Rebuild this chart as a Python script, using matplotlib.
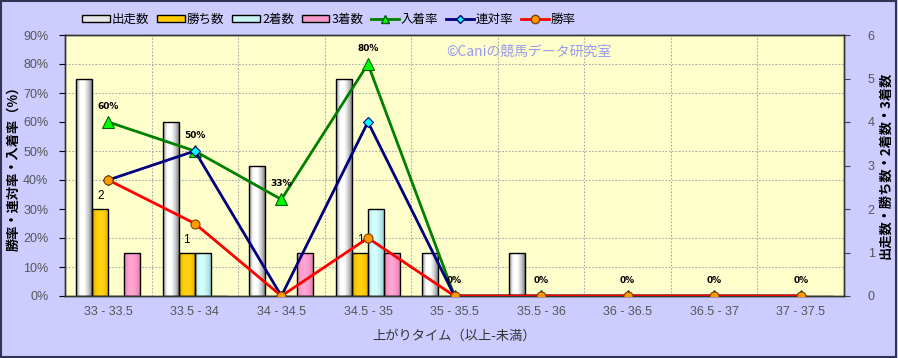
import numpy as np
import matplotlib
matplotlib.use("Agg")
import matplotlib.pyplot as plt
from matplotlib.patches import Rectangle, Patch
from matplotlib.lines import Line2D
from matplotlib.colors import LinearSegmentedColormap

plt.rcParams['font.family'] = ['Noto Sans CJK JP', 'DejaVu Sans']

categories = ["33 - 33.5", "33.5 - 34", "34 - 34.5", "34.5 - 35", "35 - 35.5",
              "35.5 - 36", "36 - 36.5", "36.5 - 37", "37 - 37.5"]
starts = [5, 4, 3, 5, 1, 1, 0, 0, 0]        # 出走数
wins = [2, 1, 0, 1, 0, 0, 0, 0, 0]          # 勝ち数
seconds = [0, 1, 0, 2, 0, 0, 0, 0, 0]       # 2着数
thirds = [1, 0, 1, 1, 0, 0, 0, 0, 0]        # 3着数
place_rate = [60, 50, 33.3, 80, 0, 0, 0, 0, 0]   # 入着率
rentai_rate = [40, 50, 0, 60, 0, 0, 0, 0, 0]     # 連対率
win_rate = [40, 25, 0, 20, 0, 0, 0, 0, 0]        # 勝率

W, H = 898, 358
fig = plt.figure(figsize=(W / 100, H / 100), dpi=100)
fig.patch.set_facecolor('#CCCCFF')
fig.patches.append(Rectangle((0.001, 0.002), 0.997, 0.995, transform=fig.transFigure,
                             fill=False, edgecolor='#333355', linewidth=1.5))

left, right, top, bottom = 65, 844, 35, 296
ax = fig.add_axes([left / W, 1 - bottom / H, (right - left) / W, (bottom - top) / H])
ax.set_facecolor('#FFFFCC')
ax2 = ax.twinx()

x = np.arange(len(categories))
bw = 0.185
offs = [-1.5 * bw, -0.5 * bw, 0.5 * bw, 1.5 * bw]

def grad_bars(bars, cmap):
    grad = np.linspace(0, 1, 64).reshape(1, -1)
    for b in bars:
        if b.get_height() <= 0:
            continue
        x0, y0 = b.get_x(), b.get_y()
        im = ax.imshow(grad, extent=(x0, x0 + b.get_width(), y0, y0 + b.get_height()),
                       aspect='auto', cmap=cmap, zorder=2, origin='lower')
        im.set_clip_path(b)

cm_white = LinearSegmentedColormap.from_list('w', ['#9a9a9a', '#ffffff', '#ffffff', '#c8c8c8', '#6e6e6e'])
cm_gold = LinearSegmentedColormap.from_list('g', ['#d9a400', '#ffcc00', '#ffd21a', '#ffcc00', '#d9a400'])
cm_cyan = LinearSegmentedColormap.from_list('c', ['#a8dede', '#d4ffff', '#d4ffff', '#b8eaea', '#96cccc'])
cm_pink = LinearSegmentedColormap.from_list('p', ['#e07fb0', '#ff9fd0', '#ffa6d4', '#f595c6', '#d878aa'])

series = [(starts, cm_white, '#dddddd'), (wins, cm_gold, '#ffcc00'),
          (seconds, cm_cyan, '#c8f4f4'), (thirds, cm_pink, '#f59ac8')]
for (vals, cmap, fc), o in zip(series, offs):
    bars = ax.bar(x + o, vals, width=bw, facecolor=fc, edgecolor='black', linewidth=1.0, zorder=2)
    grad_bars(bars, cmap)
    for b in bars:
        b.set_facecolor('none')
        b.set_zorder(3)

for i, v in enumerate(wins):
    if v > 0:
        ax.annotate(str(v), (x[i] + offs[1], v), xytext=(0, 5), textcoords='offset points',
                    ha='center', va='bottom', fontsize=8.5, color='black',
                    family=['Liberation Sans', 'DejaVu Sans'])

ax.set_xlim(-0.5, len(categories) - 0.5)
ax.set_ylim(0, 6)
ax.yaxis.tick_right()
ax.yaxis.set_label_position('right')
ax.set_yticks(range(0, 7))
ax.set_yticks(np.arange(0, 6.01, 2 / 3), minor=True)
ax.grid(True, which='minor', axis='y', linestyle=(0, (1.5, 1.5)), color='#aaaaaa', linewidth=0.8, zorder=0)
ax.set_xticks(x)
ax.set_xticklabels(categories)
ax.set_xticks(np.arange(0.5, len(categories) - 0.5, 1), minor=True)
ax.grid(True, which='minor', axis='x', linestyle=(0, (1.5, 1.5)), color='#aaaaaa', linewidth=0.8, zorder=0)
ax.tick_params(axis='x', which='major', length=0, labelsize=9, colors='#444444', pad=7)
ax.tick_params(axis='x', which='minor', length=0)
ax.tick_params(axis='y', which='major', length=4, labelsize=9, colors='#444444', pad=13)
ax.tick_params(axis='y', which='minor', length=0)
for lab in ax.get_xticklabels() + ax.get_yticklabels():
    lab.set_family(['Liberation Sans', 'DejaVu Sans'])
    lab.set_color('#555555')
ax.set_axisbelow(True)

ax2.set_ylim(0, 90)
ax2.yaxis.tick_left()
ax2.yaxis.set_label_position('left')
ax2.set_yticks(range(0, 91, 10))
ax2.set_yticklabels([f"{v}%" for v in range(0, 91, 10)])
ax2.tick_params(axis='y', length=4, labelsize=9, pad=8)
for lab in ax2.get_yticklabels():
    lab.set_family(['Liberation Sans', 'DejaVu Sans'])
    lab.set_color('#555555')

lw = 2.0
ax2.plot(x, place_rate, color='#008000', lw=lw, marker='^', markersize=8,
         markerfacecolor='#00ff00', markeredgecolor='#006000', markeredgewidth=0.8, zorder=5)
ax2.plot(x, rentai_rate, color='#000080', lw=lw, marker='D', markersize=5,
         markerfacecolor='#00ffff', markeredgecolor='#000080', markeredgewidth=0.8, zorder=6)
ax2.plot(x, win_rate, color='#ff0000', lw=lw, marker='o', markersize=6.5,
         markerfacecolor='#ff9900', markeredgecolor='#804000', markeredgewidth=0.8, zorder=7)

for i, v in enumerate(place_rate):
    ax2.annotate(f"{v:.0f}%", (x[i], v), xytext=(0, 8), textcoords='offset points',
                 ha='center', va='bottom', fontsize=6.5, fontweight='bold',
                 family=['DejaVu Sans'], zorder=8)

for s in list(ax.spines.values()) + list(ax2.spines.values()):
    s.set_color('#333333')
    s.set_linewidth(1.0)

ax2.set_ylabel("勝率・連対率・入着率（%）", fontsize=9.5, labelpad=2, fontweight='bold')
ax.set_ylabel("出走数・勝ち数・2着数・3着数", fontsize=9.5, labelpad=3, rotation=90, fontweight='bold')
ax.set_xlabel("上がりタイム（以上-未満）", fontsize=9.5, labelpad=9, color='#333333')

ax.text(0.489, 0.935, "©Caniの競馬データ研究室", transform=ax.transAxes,
        fontsize=10, color='#9999f0', ha='left', va='center', zorder=9)

handles = [
    Patch(facecolor='#e6e6e6', edgecolor='black', label='出走数'),
    Patch(facecolor='#ffcc00', edgecolor='black', label='勝ち数'),
    Patch(facecolor='#c8f4f4', edgecolor='black', label='2着数'),
    Patch(facecolor='#f59ac8', edgecolor='black', label='3着数'),
    Line2D([], [], color='#008000', lw=lw, marker='^', markersize=6,
           markerfacecolor='#00ff00', markeredgecolor='#006000', label='入着率'),
    Line2D([], [], color='#000080', lw=lw, marker='D', markersize=4,
           markerfacecolor='#00ffff', markeredgecolor='#000080', label='連対率'),
    Line2D([], [], color='#ff0000', lw=lw, marker='o', markersize=6,
           markerfacecolor='#ff9900', markeredgecolor='#804000', label='勝率'),
]
fig.legend(handles=handles, loc='center left', bbox_to_anchor=(82 / W, 1 - 19 / H),
           ncol=7, frameon=False, fontsize=9, handlelength=2.2, handleheight=0.5,
           handletextpad=0.2, columnspacing=0.6, borderaxespad=0, borderpad=0)

fig.savefig("out.png", dpi=100, facecolor=fig.get_facecolor())
